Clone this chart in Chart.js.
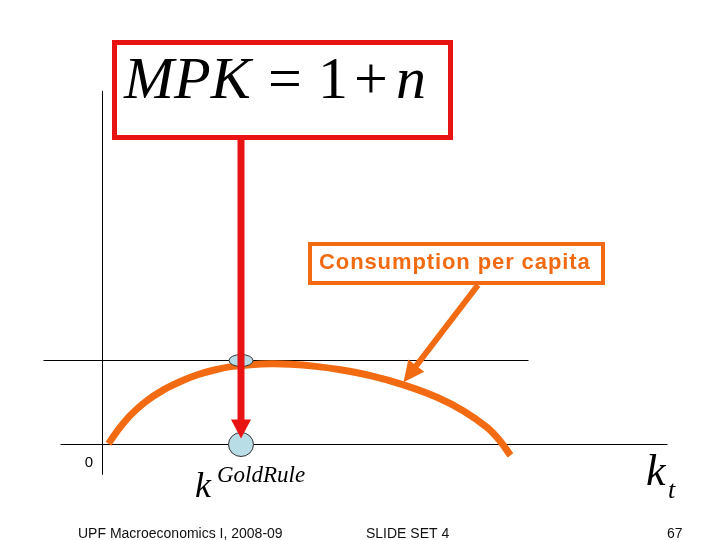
<!DOCTYPE html>
<html>
<head>
<meta charset="utf-8">
<script src="https://cdn.jsdelivr.net/npm/chart.js@4.4.1/dist/chart.umd.min.js"></script>
<style>
  html, body { margin: 0; padding: 0; background: #fff; }
  #wrap { width: 720px; height: 540px; }
</style>
</head>
<body>
<div id="wrap"><canvas id="slide" width="720" height="540"></canvas></div>
<script>
// capital per worker (k) and consumption per capita (c)
const capitalK = [0.6, 1.6, 2.8, 4.3, 6.1, 7.8, 9.5, 11.3, 13.0, 14.8, 16.8, 18.8, 21.3, 23.8, 26.8, 30.1, 33.5, 36.1, 38.5, 39.7, 40.8];
const consumption = [0.01, 0.18, 0.35, 0.51, 0.65, 0.75, 0.83, 0.89, 0.93, 0.95, 0.96, 0.955, 0.93, 0.89, 0.82, 0.71, 0.56, 0.40, 0.20, 0.05, -0.13];

// golden rule capital and the level of the horizontal line through the top
const kGoldRule = 13.8;
const cTopLine = 1.0;

// extents of the drawn axis lines
const kAxisSpan = [-4.2, 56.5];
const cAxisSpan = [-0.36, 4.21];
const topLineSpan = [-5.9, 42.6];

// where the callout arrow meets the curve
const calloutK = 30.1;
const calloutC = 0.74;

const ORANGE = '#F26B12';
const RED = '#E81414';
const BLUE = '#B9DDE6';

// helpers
function arrowHead(ctx, x1, y1, x2, y2, len, half, color) {
    const a = Math.atan2(y2 - y1, x2 - x1);
    ctx.save();
    ctx.fillStyle = color;
    ctx.beginPath();
    ctx.moveTo(x2, y2);
    ctx.lineTo(x2 - len * Math.cos(a) + half * Math.sin(a), y2 - len * Math.sin(a) - half * Math.cos(a));
    ctx.lineTo(x2 - len * Math.cos(a) - half * Math.sin(a), y2 - len * Math.sin(a) + half * Math.cos(a));
    ctx.closePath();
    ctx.fill();
    ctx.restore();
}

function blob(ctx, x, y, rx, ry) {
    ctx.save();
    ctx.fillStyle = BLUE;
    ctx.strokeStyle = '#333';
    ctx.lineWidth = 1;
    ctx.beginPath();
    ctx.ellipse(x, y, rx, ry, 0, 0, Math.PI * 2);
    ctx.fill();
    ctx.stroke();
    ctx.restore();
}

// annotations: boxes, arrows, markers and labels
const slideDecor = {
    id: 'slideDecor',
    afterDatasetsDraw(chart) {
        const ctx = chart.ctx;
        const xs = chart.scales.x;
        const ys = chart.scales.y;
        const gx = Math.round(xs.getPixelForValue(kGoldRule));
        const topY = ys.getPixelForValue(cTopLine);
        const axisY = ys.getPixelForValue(0);

        // markers on the top line and on the k axis
        blob(ctx, gx, topY, 12, 6);
        blob(ctx, gx, axisY, 12.5, 12);

        // red formula box
        ctx.save();
        ctx.strokeStyle = RED;
        ctx.lineWidth = 5;
        ctx.strokeRect(114.5, 42.5, 336, 95);
        ctx.restore();

        // red arrow down to k gold rule
        ctx.save();
        ctx.strokeStyle = RED;
        ctx.lineWidth = 7;
        ctx.beginPath();
        ctx.moveTo(gx, 140);
        ctx.lineTo(gx, axisY - 22);
        ctx.stroke();
        ctx.restore();
        arrowHead(ctx, gx, 140, gx, axisY - 6, 19, 10, RED);

        // formula text
        ctx.save();
        ctx.fillStyle = '#000';
        ctx.textBaseline = 'alphabetic';
        ctx.font = 'italic 60px "Liberation Serif", "Times New Roman", serif';
        ctx.fillText('MPK', 124, 98);
        ctx.font = '60px "Liberation Serif", "Times New Roman", serif';
        ctx.fillText('=', 268, 98);
        ctx.fillText('1', 318, 98);
        ctx.fillText('+', 354, 98);
        ctx.font = 'italic 60px "Liberation Serif", "Times New Roman", serif';
        ctx.fillText('n', 396, 98);
        ctx.restore();

        // orange callout
        ctx.save();
        ctx.strokeStyle = ORANGE;
        ctx.lineWidth = 4;
        ctx.strokeRect(310, 244, 293, 39);
        ctx.fillStyle = ORANGE;
        ctx.font = 'bold 22px "Liberation Sans", Arial, sans-serif';
        ctx.letterSpacing = '0.9px';
        ctx.textAlign = 'left';
        ctx.fillText('Consumption per capita', 319, 269);
        ctx.letterSpacing = '0px';
        const tx = xs.getPixelForValue(calloutK);
        const ty = ys.getPixelForValue(calloutC);
        ctx.lineWidth = 6;
        ctx.beginPath();
        ctx.moveTo(478, 285);
        ctx.lineTo(tx + (478 - tx) * 0.15, ty + (285 - ty) * 0.15);
        ctx.stroke();
        ctx.restore();
        arrowHead(ctx, 478, 285, xs.getPixelForValue(calloutK), ys.getPixelForValue(calloutC), 21, 10, ORANGE);

        // axis labels
        ctx.save();
        ctx.fillStyle = '#000';
        ctx.font = '15px "Liberation Sans", Arial, sans-serif';
        ctx.textAlign = 'center';
        ctx.fillText('0', 89, 467);
        ctx.textAlign = 'left';
        ctx.font = 'italic 36px "Liberation Serif", "Times New Roman", serif';
        ctx.fillText('k', 195, 497);
        ctx.font = 'italic 23px "Liberation Serif", "Times New Roman", serif';
        ctx.fillText('GoldRule', 217, 482);
        ctx.font = 'italic 44px "Liberation Serif", "Times New Roman", serif';
        ctx.fillText('k', 646, 485);
        ctx.font = 'italic 26px "Liberation Serif", "Times New Roman", serif';
        ctx.fillText('t', 668, 498);

        // footer
        ctx.fillStyle = '#111';
        ctx.font = '14px "Liberation Sans", Arial, sans-serif';
        ctx.fillText('UPF Macroeconomics I, 2008-09', 78, 538);
        ctx.fillText('SLIDE SET 4', 366, 538);
        ctx.fillText('67', 667, 538);
        ctx.restore();
    }
};

const thinLine = { borderColor: '#000', borderWidth: 1, pointRadius: 0, order: 2 };

new Chart(document.getElementById('slide'), {
    type: 'line',
    data: {
        datasets: [
            {
                label: 'Consumption per capita',
                data: capitalK.map((k, i) => ({ x: k, y: consumption[i] })),
                borderColor: ORANGE,
                borderWidth: 7,
                pointRadius: 0,
                tension: 0.3,
                order: 0
            },
            Object.assign({ label: 'k axis', data: kAxisSpan.map(k => ({ x: k, y: 0 })) }, thinLine),
            Object.assign({ label: 'c axis', data: cAxisSpan.map(c => ({ x: 0, y: c })) }, thinLine),
            Object.assign({ label: 'top', data: topLineSpan.map(k => ({ x: k, y: cTopLine })) }, thinLine)
        ]
    },
    options: {
        responsive: false,
        animation: false,
        layout: { padding: 0 },
        plugins: { legend: { display: false }, tooltip: { enabled: false } },
        scales: {
            // 10 px per k unit, 84 px per c unit; half-pixel offset keeps the thin lines crisp
            x: { type: 'linear', min: -10.25, max: 61.75, display: false },
            y: { type: 'linear', min: -95.5 / 84, max: 444.5 / 84, display: false }
        }
    },
    plugins: [slideDecor]
});
</script>
</body>
</html>
